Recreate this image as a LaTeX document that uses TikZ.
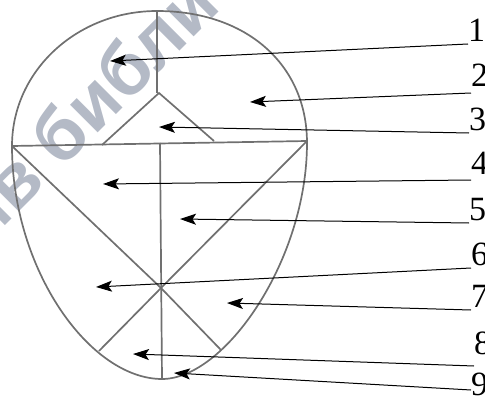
\documentclass[tikz,border=0pt]{standalone}
\usepackage{fontspec}
\setmainfont{Liberation Serif}
\newfontfamily\wmfont{Liberation Sans}
\usetikzlibrary{arrows.meta}
\definecolor{partgray}{RGB}{112,112,112}
\definecolor{wmblue}{RGB}{180,186,198}

\begin{document}
\begin{tikzpicture}[x=1pt,y=-1pt,
  part/.style={draw=partgray,line width=1.7pt},
  lead/.style={-{Stealth[length=16pt,width=11pt,inset=3.5pt]},line width=1pt},
  lbl/.style={anchor=south west,inner xsep=0pt,inner ysep=2pt,font=\fontsize{34}{34}\selectfont}]
\useasboundingbox (0,0) rectangle (485,396);

% watermark of the scan
\node[rotate=45,anchor=base west,inner sep=0pt,text=wmblue,font=\wmfont\bfseries\fontsize{74}{74}\selectfont] (wm) at (-17,248) {ив библиотека};

% outline
\coordinate (T) at (157,11);
\coordinate (L) at (12,146);
\coordinate (R) at (307,141);
\coordinate (B) at (162,379);
\coordinate (C) at (161,288);
\coordinate (A) at (159,93);
\draw[part] (T) .. controls (77,11) and (12,71) .. (L)
  .. controls (12,270) and (90,379) .. (B)
  .. controls (225,379) and (307,260) .. (307,143)
  .. controls (307,65) and (247,11) .. (T);

% inner lines
\draw[part] (L) -- (R);
\draw[part] (T) -- (157,93);
\draw[part] (102,145) -- (A) -- (214,141);
\draw[part] (160,143) -- (B);
\draw[part] (L) -- (C) -- (R);
\draw[part] (99,351) -- (C) -- (221,350);

% arrow tips
\coordinate (t1) at (110,61);
\coordinate (t2) at (250,102);
\coordinate (t3) at (159,127);
\coordinate (t4) at (103,184);
\coordinate (t5) at (180,219);
\coordinate (t6) at (96,287);
\coordinate (t7) at (227,303);
\coordinate (t8) at (133,354);
\coordinate (t9) at (174,373);

% labels
\node[lbl] (n1) at (468,44) {1};
\node[lbl,inner ysep=6pt] (n2) at (471,93) {2};
\node[lbl] (n3) at (469,133) {3};
\node[lbl,inner ysep=5pt] (n4) at (471,180) {4};
\node[lbl] (n5) at (469,223) {5};
\node[lbl] (n6) at (471,268) {6};
\node[lbl] (n7) at (471,310) {7};
\node[lbl,inner ysep=11pt] (n8) at (474,366) {8};
\node[lbl,inner ysep=-6pt] (n9) at (471,390) {9};

\foreach \i in {1,...,9}{
    \draw[lead] (n\i.south west) -- (t\i);
}
\end{tikzpicture}
\end{document}
